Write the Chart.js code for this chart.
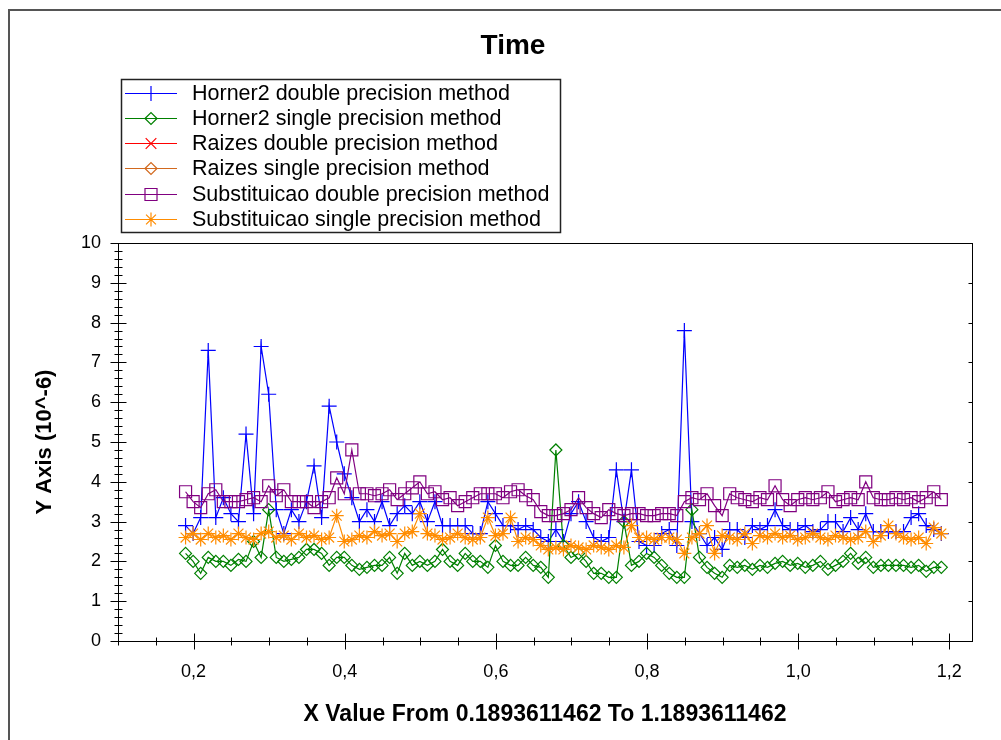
<!DOCTYPE html>
<html><head><meta charset="utf-8">
<script src="https://cdn.jsdelivr.net/npm/chart.js@4.4.0/dist/chart.umd.min.js"></script>
<style>html,body{margin:0;padding:0;background:#fff;}canvas{display:block;}</style>
</head><body>
<canvas id="c" width="1001" height="740"></canvas>
<script>
const xValues = [
 0.1894,0.1994,0.2094,0.2194,0.2294,0.2394,0.2494,0.2594,0.2694,0.2794,
 0.2894,0.2994,0.3094,0.3194,0.3294,0.3394,0.3494,0.3594,0.3694,0.3794,
 0.3894,0.3994,0.4094,0.4194,0.4294,0.4394,0.4494,0.4594,0.4694,0.4794,
 0.4894,0.4994,0.5094,0.5194,0.5294,0.5394,0.5494,0.5594,0.5694,0.5794,
 0.5894,0.5994,0.6094,0.6194,0.6294,0.6394,0.6494,0.6594,0.6694,0.6794,
 0.6894,0.6994,0.7094,0.7194,0.7294,0.7394,0.7494,0.7594,0.7694,0.7794,
 0.7894,0.7994,0.8094,0.8194,0.8294,0.8394,0.8494,0.8594,0.8694,0.8794,
 0.8894,0.8994,0.9094,0.9194,0.9294,0.9394,0.9494,0.9594,0.9694,0.9794,
 0.9894,0.9994,1.0094,1.0194,1.0294,1.0394,1.0494,1.0594,1.0694,1.0794,
 1.0894,1.0994,1.1094,1.1194,1.1294,1.1394,1.1494,1.1594,1.1694,1.1794,
 1.1894];

const horner2Double = [
 2.9,2.7,3.1,7.3,3.1,3.6,3.2,3.0,5.2,3.2,
 7.4,6.2,3.3,2.7,3.3,3.0,3.5,4.4,3.1,5.9,
 5.0,4.2,3.6,3.0,3.3,3.0,3.5,2.9,3.2,3.4,
 3.2,3.5,3.0,3.5,2.9,2.9,2.9,2.9,2.7,2.7,
 3.5,3.2,2.9,2.9,2.8,2.9,2.8,2.6,2.5,2.8,
 2.5,3.2,3.5,3.0,2.6,2.5,2.6,4.3,3.0,4.3,
 2.5,2.4,2.4,2.7,2.8,2.4,7.8,3.0,2.7,2.4,
 2.6,2.3,2.8,2.8,2.6,2.9,2.8,2.9,3.3,2.9,
 2.8,2.8,2.9,2.75,2.8,3.0,3.0,2.75,3.1,2.8,
 3.2,2.75,2.75,2.75,2.75,2.75,3.1,3.2,2.9,2.8,
 2.7];

const horner2Single = [
 2.2,2.0,1.7,2.1,2.0,2.0,1.9,2.05,2.0,2.5,
 2.1,3.3,2.1,2.0,2.05,2.1,2.3,2.3,2.2,1.9,
 2.1,2.1,1.9,1.8,1.85,1.9,1.9,2.1,1.7,2.2,
 1.9,2.0,1.9,2.0,2.3,2.0,1.9,2.2,2.0,2.0,
 1.85,2.4,2.0,1.9,1.9,2.1,1.9,1.85,1.6,4.8,
 2.4,2.1,2.2,2.0,1.7,1.7,1.6,1.6,3.0,1.9,
 2.0,2.2,2.1,1.9,1.7,1.6,1.6,3.3,2.1,1.85,
 1.7,1.6,1.9,1.85,1.9,1.8,1.9,1.85,1.95,2.0,
 1.9,1.95,1.85,1.9,2.0,1.8,1.9,2.0,2.2,1.95,
 2.1,1.85,1.9,1.9,1.9,1.9,1.85,1.9,1.75,1.85,
 1.85];

const raizesDouble = [];
const raizesSingle = [];

const substDouble = [
 3.75,3.5,3.35,3.7,3.8,3.5,3.5,3.5,3.55,3.6,
 3.5,3.9,3.65,3.8,3.5,3.5,3.5,3.35,3.5,3.6,
 4.1,3.7,4.8,3.7,3.7,3.65,3.7,3.8,3.55,3.7,
 3.85,4.0,3.7,3.75,3.55,3.6,3.4,3.5,3.6,3.7,
 3.7,3.7,3.6,3.75,3.8,3.65,3.55,3.25,3.15,3.15,
 3.2,3.3,3.6,3.35,3.2,3.1,3.3,3.2,3.15,3.2,
 3.2,3.15,3.15,3.2,3.2,3.15,3.5,3.6,3.55,3.7,
 3.4,3.15,3.7,3.6,3.55,3.5,3.6,3.55,3.9,3.55,
 3.4,3.55,3.6,3.55,3.6,3.75,3.5,3.55,3.6,3.55,
 4.0,3.6,3.55,3.55,3.6,3.55,3.6,3.5,3.6,3.75,
 3.55];

const substSingle = [
 2.6,2.7,2.55,2.7,2.6,2.65,2.55,2.7,2.6,2.55,
 2.7,2.75,2.6,2.65,2.55,2.7,2.6,2.65,2.55,2.6,
 3.15,2.5,2.55,2.65,2.6,2.75,2.65,2.7,2.5,2.7,
 2.75,3.2,2.7,2.65,2.55,2.6,2.7,2.6,2.55,2.6,
 3.1,2.65,2.7,3.1,2.5,2.6,2.55,2.4,2.3,2.35,
 2.3,2.4,2.35,2.3,2.4,2.35,2.3,2.4,2.35,2.9,
 2.6,2.6,2.55,2.6,2.6,2.55,2.2,2.6,2.7,2.9,
 2.2,2.65,2.6,2.55,2.7,2.45,2.65,2.6,2.7,2.6,
 2.65,2.55,2.6,2.7,2.6,2.55,2.65,2.6,2.55,2.6,
 2.75,2.5,2.65,2.9,2.7,2.6,2.55,2.6,2.45,2.85,
 2.7];

const seriesNames = [
 'Horner2 double precision method',
 'Horner2 single precision method',
 'Raizes double precision method',
 'Raizes single precision method',
 'Substituicao double precision method',
 'Substituicao single precision method'];

const chartTitle = 'Time';
const yTickValues = [0,1,2,3,4,5,6,7,8,9,10];
const yTickLabels = ['0','1','2','3','4','5','6','7','8','9','10'];
const xTickValues = [0.2,0.4,0.6,0.8,1.0,1.2];
const xTickLabels = ['0,2','0,4','0,6','0,8','1,0','1,2'];

const FONT = '"Liberation Sans", Arial, sans-serif';
const seriesData = [horner2Double, horner2Single, raizesDouble, raizesSingle, substDouble, substSingle];
const seriesStyles = [
 {color:'#0000FF', style:'cross', r:7.5},
 {color:'#008000', style:'rectRot', r:6},
 {color:'#FF0000', style:'crossRot', r:7.5},
 {color:'#D2691E', style:'rectRot', r:6},
 {color:'#800080', style:'rect', r:8.5},
 {color:'#FF8C00', style:'star', r:7}
];

function pts(ys){ return ys.map((y,i)=>({x:xValues[i], y:y})); }

const datasets = seriesData.map((d,i)=>({
 label: seriesNames[i],
 data: pts(d),
 borderColor: seriesStyles[i].color,
 backgroundColor: 'rgba(0,0,0,0)',
 borderWidth: 1.2,
 pointStyle: seriesStyles[i].style,
 pointRadius: seriesStyles[i].r,
 pointBorderWidth: 1.2,
 pointBorderColor: seriesStyles[i].color,
 pointBackgroundColor: 'rgba(0,0,0,0)',
 tension: 0,
 order: 5 - i
}));

function line(ctx,x1,y1,x2,y2){ ctx.beginPath(); ctx.moveTo(x1,y1); ctx.lineTo(x2,y2); ctx.stroke(); }

const framePlugin = {
 id:'frame',
 beforeDraw(chart){
  const ctx = chart.ctx;
  ctx.save(); ctx.fillStyle='#fff'; ctx.fillRect(0,0,chart.width,chart.height); ctx.restore();
 },
 afterDatasetsDraw(chart){
  const {ctx, chartArea:{left,right,top,bottom}, scales:{x,y}} = chart;
  const L = Math.round(left)+0.5, R = Math.round(right)+0.5, T = Math.round(top)+0.5, B = Math.round(bottom)+0.5;
  ctx.save();
  ctx.strokeStyle='#000'; ctx.lineWidth=1;
  ctx.strokeRect(L, T, R-L, B-T);
  for (let k=0;k<=50;k++){
   const py = Math.round(y.getPixelForValue(k*0.2))+0.5;
   const major = k%5===0;
   const len = major?8:4;
   line(ctx, L-len, py, L+len, py);
   if (major && k>0 && k<50) line(ctx, R-4, py, R, py);
  }
  for (let k=2;k<=24;k++){
   const px = Math.round(x.getPixelForValue(k*0.05))+0.5;
   const major = k%4===0;
   const len = major?8:4;
   line(ctx, px, B-len, px, B+len);
  }
  ctx.restore();
 },
 afterDraw(chart){
  const ctx = chart.ctx;
  ctx.save();
  // outer frame
  ctx.strokeStyle='#555'; ctx.lineWidth=2;
  ctx.beginPath(); ctx.moveTo(9,740); ctx.lineTo(9,10); ctx.lineTo(1001,10); ctx.stroke();
  // title
  ctx.fillStyle='#000';
  ctx.font = 'bold 28px '+FONT;
  ctx.textAlign='center'; ctx.textBaseline='middle';
  ctx.fillText(chartTitle, 513, 46);
  // legend
  const lx=121, ly=79, lw=439, lh=153;
  ctx.fillStyle='#fff'; ctx.fillRect(lx,ly,lw,lh);
  ctx.strokeStyle='#222'; ctx.lineWidth=1.5;
  ctx.strokeRect(lx+0.5, ly+0.5, lw, lh);
  ctx.font = '21.5px '+FONT;
  ctx.textBaseline='middle'; ctx.textAlign='left';
  chart.data.datasets.forEach((ds,i)=>{
   const ry = Math.round(92.7 + i*25.2)+0.5;
   ctx.strokeStyle = ds.borderColor; ctx.lineWidth=1.2;
   line(ctx, 125, ry, 177, ry);
   ctx.fillStyle='rgba(0,0,0,0)';
   if (Chart.helpers && Chart.helpers.drawPoint) {
    Chart.helpers.drawPoint(ctx, {pointStyle: ds.pointStyle, rotation:0, radius: ds.pointRadius, borderWidth:1.2}, 151, ry);
   }
   ctx.fillStyle='#000';
   ctx.fillText(ds.label, 192, ry+1);
  });
  ctx.restore();
 }
};

new Chart(document.getElementById('c').getContext('2d'), {
 type:'line',
 data:{datasets: datasets},
 options:{
  responsive:false, animation:false, devicePixelRatio:1,
  layout:{padding:{left:30,right:29,top:243,bottom:8}},
  plugins:{
   legend:{display:false}, tooltip:{enabled:false}, title:{display:false}
  },
  scales:{
   x:{type:'linear', min:0.1, max:1.23,
    grid:{display:false, drawTicks:false}, border:{display:false},
    afterBuildTicks: s=>{ s.ticks = xTickValues.map(v=>({value:v})); },
    afterFit: s=>{ s.height = 91; },
    ticks:{padding:20, color:'#000', font:{family:FONT, size:18}, maxRotation:0, autoSkip:false,
     callback:(v,i)=>xTickLabels[i]},
    title:{display:true, text:'X Value From 0.1893611462 To 1.1893611462', color:'#000',
     font:{family:FONT, size:23, weight:'bold'}, padding:{top:0,bottom:4}}
   },
   y:{min:0, max:10,
    grid:{display:false, drawTicks:false}, border:{display:false},
    afterBuildTicks: s=>{ s.ticks = yTickValues.map(v=>({value:v})); },
    afterFit: s=>{ s.width = 88; },
    ticks:{padding:17, color:'#000', font:{family:FONT, size:18}, autoSkip:false,
     callback:(v,i)=>yTickLabels[i]},
    title:{display:true, text:'Y Axis (10^-6)', color:'#000',
     font:{family:FONT, size:22, weight:'bold'}, padding:{top:2,bottom:0}}
   }
  }
 },
 plugins:[framePlugin]
});
</script>
</body></html>
